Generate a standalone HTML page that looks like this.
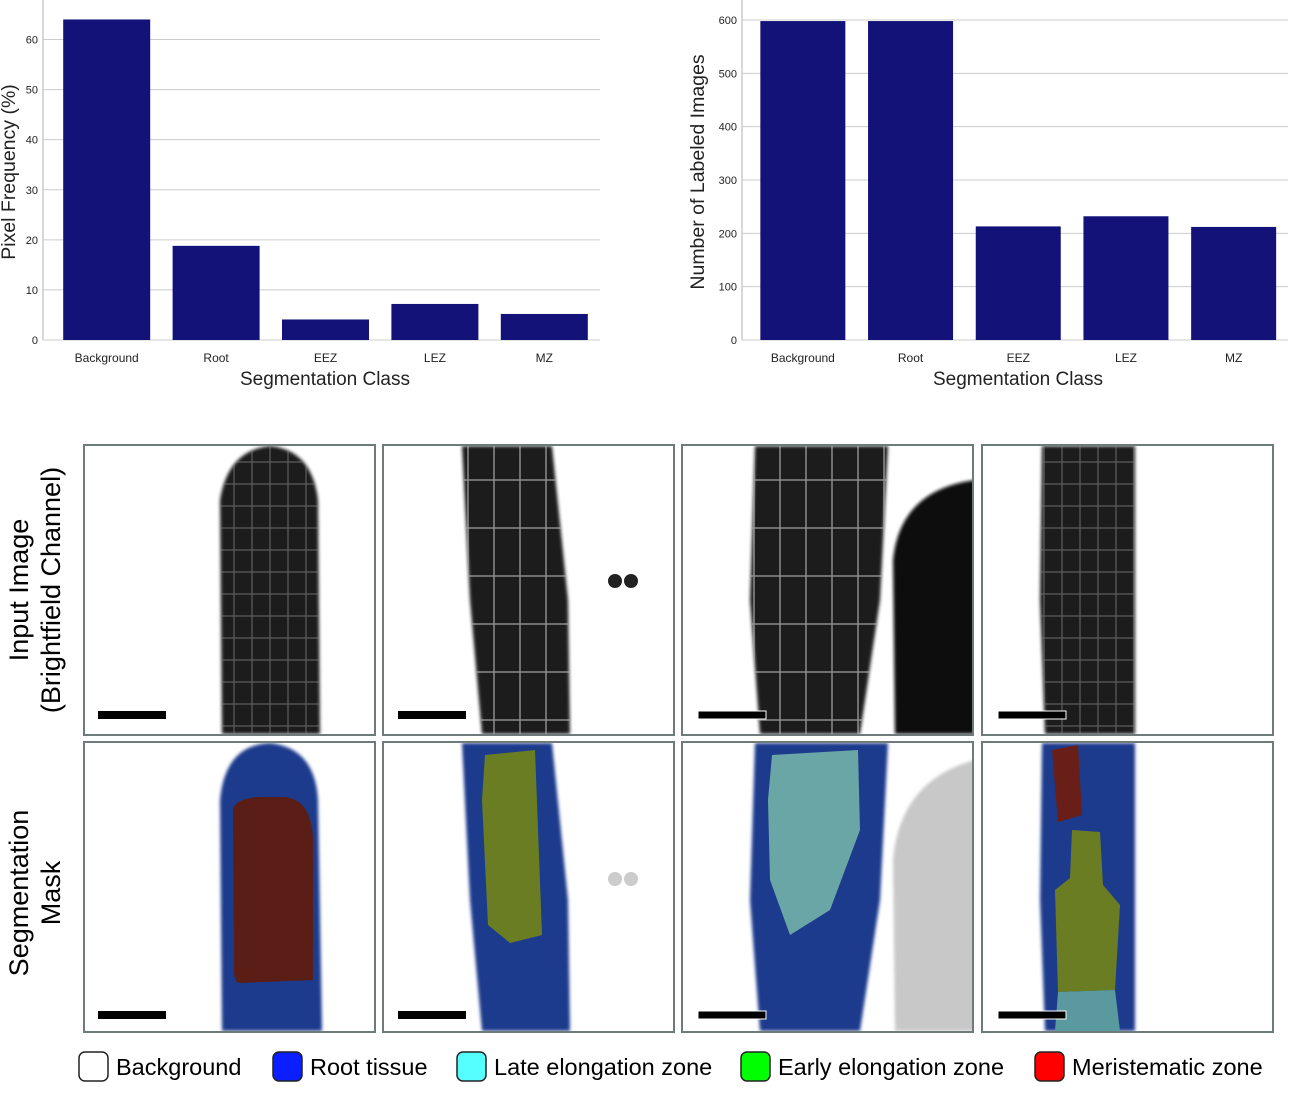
<!DOCTYPE html>
<html><head><meta charset="utf-8"><style>
body{margin:0;background:#fff;width:1304px;height:1103px;overflow:hidden;font-family:"Liberation Sans",Arial,sans-serif}
svg{position:absolute;left:0;top:0}
</style></head><body>
<svg id="s" width="1304" height="1103" xmlns="http://www.w3.org/2000/svg" font-family="Liberation Sans, Arial, sans-serif">
<defs>
<filter id="bl"><feGaussianBlur stdDeviation="1.5"/></filter>
<clipPath id="c1"><rect x="85" y="446" width="289" height="288"/></clipPath>
<clipPath id="c2"><rect x="384" y="446" width="289" height="288"/></clipPath>
<clipPath id="c3"><rect x="683" y="446" width="289" height="288"/></clipPath>
<clipPath id="c4"><rect x="983" y="446" width="289" height="288"/></clipPath>
<clipPath id="d1"><rect x="85" y="743" width="289" height="288"/></clipPath>
<clipPath id="d2"><rect x="384" y="743" width="289" height="288"/></clipPath>
<clipPath id="d3"><rect x="683" y="743" width="289" height="288"/></clipPath>
<clipPath id="d4"><rect x="983" y="743" width="289" height="288"/></clipPath>
<pattern id="cells" width="18" height="22" patternUnits="userSpaceOnUse"><rect width="18" height="22" fill="none" stroke="#888" stroke-width="1.2" opacity="0.6"/></pattern>
<pattern id="cells2" width="26" height="48" patternUnits="userSpaceOnUse"><rect width="26" height="48" fill="none" stroke="#bbb" stroke-width="1.5" opacity="0.7"/></pattern>
</defs>
<g id="chart1"></g>
<g id="chart2"></g>

<text transform="translate(28,590) rotate(-90)" text-anchor="middle" font-size="27">Input Image</text>
<text transform="translate(60,590) rotate(-90)" text-anchor="middle" font-size="27">(Brightfield Channel)</text>
<text transform="translate(28,893) rotate(-90)" text-anchor="middle" font-size="27">Segmentation</text>
<text transform="translate(60,893) rotate(-90)" text-anchor="middle" font-size="27">Mask</text>

<g clip-path="url(#c1)">
<path d="M222,734 L220,500 Q228,450 270,446 Q312,450 318,500 L320,734 Z" fill="#1a1a1a" filter="url(#bl)"/>
<path d="M222,734 L220,500 Q228,450 270,446 Q312,450 318,500 L320,734 Z" fill="url(#cells)"/>
</g>
<g clip-path="url(#c2)">
<path d="M462,446 L552,446 L568,600 L570,734 L482,734 L470,600 Z" fill="#1a1a1a" filter="url(#bl)"/>
<path d="M462,446 L552,446 L568,600 L570,734 L482,734 L470,600 Z" fill="url(#cells2)"/>
<circle cx="615" cy="581" r="7" fill="#222"/><circle cx="631" cy="581" r="7" fill="#222"/>
</g>
<g clip-path="url(#c3)">
<path d="M755,446 L888,446 L880,600 L860,734 L760,734 L750,600 Z" fill="#1c1c1c" filter="url(#bl)"/>
<path d="M755,446 L888,446 L880,600 L860,734 L760,734 L750,600 Z" fill="url(#cells2)"/>
<path d="M895,734 L893,560 Q900,490 975,480 L975,734 Z" fill="#0a0a0a" filter="url(#bl)"/>
</g>
<g clip-path="url(#c4)">
<path d="M1042,446 L1135,446 L1135,734 L1045,734 L1040,600 Z" fill="#1a1a1a" filter="url(#bl)"/>
<path d="M1042,446 L1135,446 L1135,734 L1045,734 L1040,600 Z" fill="url(#cells)"/>
</g>

<g clip-path="url(#d1)">
<path d="M222,1031 L220,800 Q225,745 270,743 Q315,748 318,800 L322,1031 Z" fill="#1d3b8c" filter="url(#bl)"/>
<path d="M233,810 Q235,798 260,797 L285,797 Q312,800 313,840 L313,980 L240,983 Q234,983 234,970 Z" fill="#5a1e16"/>
</g>
<g clip-path="url(#d2)">
<path d="M462,743 L552,743 L568,900 L570,1031 L482,1031 L470,900 Z" fill="#1d3b8c" filter="url(#bl)"/>
<path d="M485,755 L535,750 L542,935 L510,943 L488,925 L482,800 Z" fill="#6b7d22"/>
<circle cx="615" cy="879" r="7" fill="#ccc"/><circle cx="631" cy="879" r="7" fill="#ccc"/>
</g>
<g clip-path="url(#d3)">
<path d="M755,743 L888,743 L880,900 L860,1031 L760,1031 L750,900 Z" fill="#1d3b8c" filter="url(#bl)"/>
<path d="M772,755 L858,750 L860,830 L830,910 L790,935 L770,880 L768,800 Z" fill="#6aa6a6"/>
<path d="M895,1031 L893,860 Q900,780 975,760 L975,1031 Z" fill="#c8c8c8" filter="url(#bl)"/>
</g>
<g clip-path="url(#d4)">
<path d="M1042,743 L1135,743 L1135,1031 L1045,1031 L1040,900 Z" fill="#1d3b8c" filter="url(#bl)"/>
<path d="M1052,750 L1078,745 L1082,815 L1058,822 Z" fill="#6a1e18"/>
<path d="M1072,830 L1100,832 L1103,885 L1120,905 L1115,990 L1058,992 L1055,890 L1070,878 Z" fill="#6b7d22"/>
<path d="M1058,992 L1115,990 L1120,1031 L1055,1031 Z" fill="#5a9a9e"/>
</g>

<g fill="none" stroke="#6d7b7a" stroke-width="2">
<rect x="84" y="445" width="291" height="290"/><rect x="383" y="445" width="291" height="290"/>
<rect x="682" y="445" width="291" height="290"/><rect x="982" y="445" width="291" height="290"/>
<rect x="84" y="742" width="291" height="290"/><rect x="383" y="742" width="291" height="290"/>
<rect x="682" y="742" width="291" height="290"/><rect x="982" y="742" width="291" height="290"/>
</g>
<g fill="#000">
<rect x="98" y="711" width="68" height="8"/><rect x="398" y="711" width="68" height="8"/>
<rect x="698" y="711" width="68" height="8" stroke="#fff"/><rect x="998" y="711" width="68" height="8" stroke="#fff"/>
<rect x="98" y="1011" width="68" height="8"/><rect x="398" y="1011" width="68" height="8"/>
<rect x="698" y="1011" width="68" height="8" stroke="#fff"/><rect x="998" y="1011" width="68" height="8" stroke="#fff"/>
</g>

<g font-size="23.5">
<g><rect x="79" y="1052" width="29" height="29" rx="6" fill="#fff" stroke="#222" stroke-width="1.5"/><text x="116" y="1075">Background</text></g>
<g><rect x="273" y="1052" width="29" height="29" rx="6" fill="#0a1eff" stroke="#222" stroke-width="1.5"/><text x="310" y="1075">Root tissue</text></g>
<g><rect x="457" y="1052" width="29" height="29" rx="6" fill="#5ff" stroke="#222" stroke-width="1.5"/><text x="494" y="1075">Late elongation zone</text></g>
<g><rect x="741" y="1052" width="29" height="29" rx="6" fill="#0f0" stroke="#222" stroke-width="1.5"/><text x="778" y="1075">Early elongation zone</text></g>
<g><rect x="1035" y="1052" width="29" height="29" rx="6" fill="#f00" stroke="#222" stroke-width="1.5"/><text x="1072" y="1075">Meristematic zone</text></g>
</g>
</svg>
<script>
const categories = ["Background","Root","EEZ","LEZ","MZ"];
const pixelFreq = [64, 18.8, 4.1, 7.2, 5.2];
const freqTicks = [0,10,20,30,40,50,60];
const labeledCounts = [598, 598, 213, 232, 212];
const countTicks = [0,100,200,300,400,500,600];
const NS="http://www.w3.org/2000/svg";
function mk(tag, attrs, parent){const e=document.createElementNS(NS,tag);for(const k in attrs)e.setAttribute(k,attrs[k]);parent.appendChild(e);return e;}
function draw(gid, vals, ticks, maxV, cfg){
  const g=document.getElementById(gid);
  const y=v=>cfg.base-(v/maxV)*(cfg.base-cfg.top);
  const x=i=>cfg.x0+cfg.step*(i+0.5);
  ticks.forEach(t=>{
    const l=mk('line',{x1:cfg.axisX,x2:cfg.x1,y1:y(t),y2:y(t),stroke:'#ccc','stroke-width':1},g);
    
    
    const tx=mk('text',{x:cfg.axisX-5,y:y(t)+4,'text-anchor':'end','font-size':11,fill:'#222'},g);
    tx.textContent=t;
    
    
  });
  const sp=mk('line',{x1:cfg.axisX,x2:cfg.axisX,y1:0,y2:cfg.base,stroke:'#ccc','stroke-width':1.5},g);
  
  
  vals.forEach((v,i)=>{
    const r=mk('rect',{x:x(i)-cfg.bw/2,y:y(v),width:cfg.bw,height:cfg.base-y(v),fill:'#121278'},g);
    
    
    const t=mk('text',{x:x(i),y:cfg.base+22,'text-anchor':'middle','font-size':12,fill:'#222'},g);
    t.textContent=categories[i];
    
    
  });
  const xl=mk('text',{x:cfg.xlab,y:cfg.base+45,'text-anchor':'middle','font-size':19,fill:'#222'},g);
  xl.textContent='Segmentation Class';
  
  
  const yl=mk('text',{transform:`translate(${cfg.ylabX},${cfg.ylabY}) rotate(-90)`,'text-anchor':'middle','font-size':19.5,fill:'#222'},g);
  yl.textContent=cfg.ytitle;
  
  
}
draw('chart1',pixelFreq,freqTicks,60,{base:340,top:39.5,x0:52,step:109.4,bw:87,axisX:43,x1:600,xlab:325,ylabX:15,ylabY:172,ytitle:'Pixel Frequency (%)'});
draw('chart2',labeledCounts,countTicks,600,{base:340,top:20,x0:749,step:107.7,bw:85,axisX:742,x1:1288,xlab:1018,ylabX:704,ylabY:172,ytitle:'Number of Labeled Images'});
</script>
</body></html>
